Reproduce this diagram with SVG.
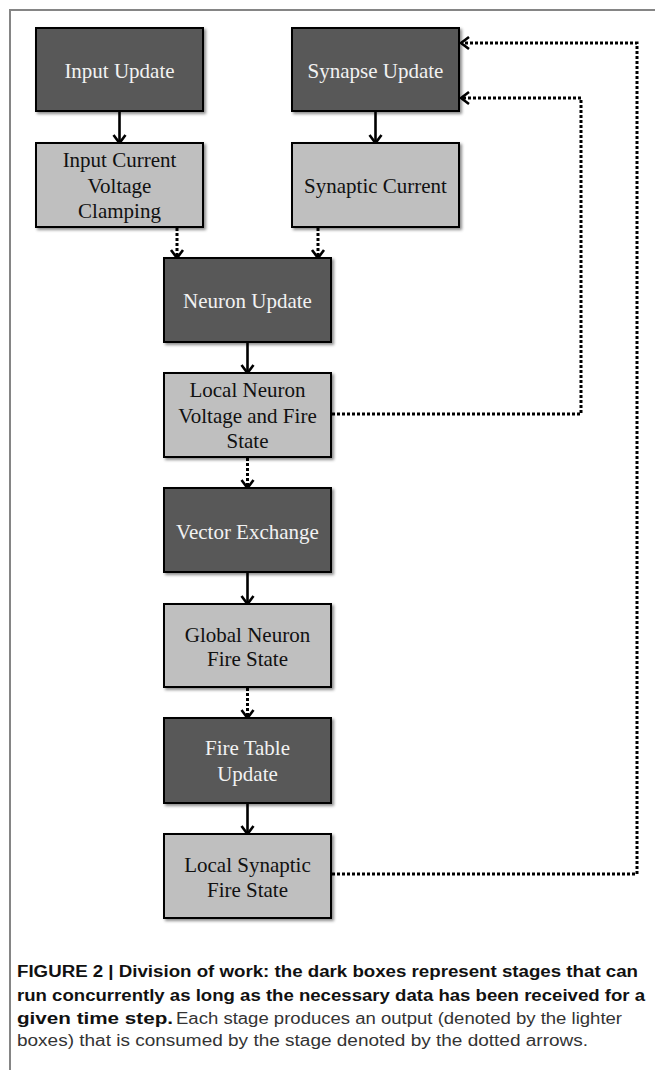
<svg xmlns="http://www.w3.org/2000/svg" width="655" height="1070" viewBox="0 0 655 1070">
<defs>
<filter id="sh" x="-10%" y="-10%" width="130%" height="130%">
<feDropShadow dx="2" dy="2" stdDeviation="1.5" flood-color="#000" flood-opacity="0.45"/>
</filter>
<marker id="arr" markerUnits="userSpaceOnUse" markerWidth="14" markerHeight="16" viewBox="0 0 14 16" refX="10" refY="8" orient="auto">
<path d="M2,2 L10,8 L2,14" fill="none" stroke="#000" stroke-width="2.6" stroke-dasharray="none"/>
</marker>
</defs>
<style>
.dark{fill:#595959;stroke:#000;stroke-width:2;filter:url(#sh)}
.light{fill:#bfbfbf;stroke:#000;stroke-width:2;filter:url(#sh)}
.tl{font-family:"Liberation Serif","Times New Roman",serif;font-size:21px;text-anchor:middle;fill:#f2f2f2}
.td{font-family:"Liberation Serif","Times New Roman",serif;font-size:21px;text-anchor:middle;fill:#111}
.solid{fill:none;stroke:#000;stroke-width:2.6;marker-end:url(#arr)}
.dot{fill:none;stroke:#000;stroke-width:3;stroke-dasharray:3 2}
.doth{fill:none;stroke:#000;stroke-width:3;stroke-dasharray:3 2;marker-end:url(#arr)}
.cb{font-family:"Liberation Sans",Arial,sans-serif;font-size:16px;font-weight:bold;fill:#111}
.cr{font-family:"Liberation Sans",Arial,sans-serif;font-size:16px;fill:#333}
</style>
<rect width="655" height="1070" fill="#fff"/>
<path d="M10,1070 L10,10 L655,10" fill="none" stroke="#858585" stroke-width="2"/>

<g id="connectors">
<path class="solid" d="M119.5,112 L119.5,143"/>
<path class="solid" d="M375.5,112 L375.5,143"/>
<path class="doth" d="M177,228 L177,258"/>
<path class="doth" d="M318,228 L318,258"/>
<path class="solid" d="M247.5,343 L247.5,373"/>
<path class="doth" d="M247.5,458 L247.5,488"/>
<path class="solid" d="M247.5,573 L247.5,604"/>
<path class="doth" d="M247.5,688 L247.5,718"/>
<path class="solid" d="M247.5,804 L247.5,834"/>
<path class="doth" d="M332,414 L581,414 L581,98 L461,98"/>
<path class="doth" d="M332,874 L637,874 L637,43 L461,43"/>
</g>

<g id="input-update">
<rect class="dark" x="36" y="28" width="167" height="83"/>
<text class="tl" x="119.5" y="78">Input Update</text>
</g>
<g id="synapse-update">
<rect class="dark" x="292" y="28" width="167" height="83"/>
<text class="tl" x="375.5" y="78">Synapse Update</text>
</g>
<g id="input-current">
<rect class="light" x="36" y="143" width="167" height="84"/>
<text class="td" x="119.5" y="167">Input Current</text>
<text class="td" x="119.5" y="192.5">Voltage</text>
<text class="td" x="119.5" y="218">Clamping</text>
</g>
<g id="synaptic-current">
<rect class="light" x="292" y="143" width="167" height="84"/>
<text class="td" x="375.5" y="193">Synaptic Current</text>
</g>
<g id="neuron-update">
<rect class="dark" x="164" y="258" width="167" height="84"/>
<text class="tl" x="247.5" y="308">Neuron Update</text>
</g>
<g id="local-neuron">
<rect class="light" x="164" y="373" width="167" height="84"/>
<text class="td" x="247.5" y="397">Local Neuron</text>
<text class="td" x="247.5" y="423">Voltage and Fire</text>
<text class="td" x="247.5" y="448">State</text>
</g>
<g id="vector-exchange">
<rect class="dark" x="164" y="488" width="167" height="84"/>
<text class="tl" x="247.5" y="539">Vector Exchange</text>
</g>
<g id="global-neuron">
<rect class="light" x="164" y="604" width="167" height="83"/>
<text class="td" x="247.5" y="642">Global Neuron</text>
<text class="td" x="247.5" y="666">Fire State</text>
</g>
<g id="fire-table">
<rect class="dark" x="164" y="718" width="167" height="85"/>
<text class="tl" x="247.5" y="755">Fire Table</text>
<text class="tl" x="247.5" y="781">Update</text>
</g>
<g id="local-synaptic">
<rect class="light" x="164" y="834" width="167" height="84"/>
<text class="td" x="247.5" y="872">Local Synaptic</text>
<text class="td" x="247.5" y="897">Fire State</text>
</g>

<g id="caption">
<text class="cb" x="17" y="977" textLength="621" lengthAdjust="spacingAndGlyphs">FIGURE 2 | Division of work: the dark boxes represent stages that can</text>
<text class="cb" x="17" y="1001" textLength="628" lengthAdjust="spacingAndGlyphs">run concurrently as long as the necessary data has been received for a</text>
<text class="cb" x="17" y="1024" textLength="156" lengthAdjust="spacingAndGlyphs">given time step.</text>
<text class="cr" x="176" y="1024" textLength="446" lengthAdjust="spacingAndGlyphs">Each stage produces an output (denoted by the lighter</text>
<text class="cr" x="17" y="1046" textLength="571" lengthAdjust="spacingAndGlyphs">boxes) that is consumed by the stage denoted by the dotted arrows.</text>
</g>
</svg>
